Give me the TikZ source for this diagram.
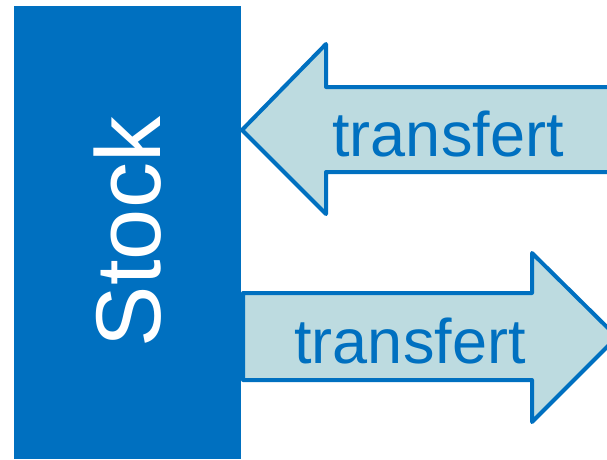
\documentclass[tikz,border=0pt]{standalone}
\usepackage{fontspec}
\setmainfont{Liberation Sans}
\definecolor{sblue}{RGB}{0,112,192}
\definecolor{sfill}{RGB}{189,219,224}
\tikzset{
  arrowshape/.style={draw=sblue, fill=sfill, line width=4pt, line join=round},
  lbl/.style={text=sblue, font=\fontsize{63}{63}\selectfont, inner sep=0pt},
}
\begin{document}
\begin{tikzpicture}[x=1pt,y=-1pt]
\useasboundingbox (0,0) rectangle (607,459);
\clip (0,0) rectangle (607,459);
\fill[white] (0,0) rectangle (607,459);
\node[fill=sblue, minimum width=227pt, minimum height=453pt, inner sep=0pt, anchor=north west] (stock) at (14,6) {};
\node[rotate=90, text=white, font=\fontsize{92}{92}\selectfont, inner sep=0pt] (stocktxt) at (128,232) {Stock};
% top arrow (left)
\draw[arrowshape] (242,130) -- (326,44) -- (326,87) -- (640,87) -- (640,172) -- (326,172) -- (326,214) -- cycle;
\node[lbl] (t1) at (448,134) {transfert};
% bottom arrow (right)
\draw[arrowshape] (243,293) -- (532,293) -- (532,253) -- (617,337) -- (532,422) -- (532,380) -- (243,380) -- cycle;
\node[lbl] (t2) at (410,341) {transfert};
\end{tikzpicture}
\end{document}
